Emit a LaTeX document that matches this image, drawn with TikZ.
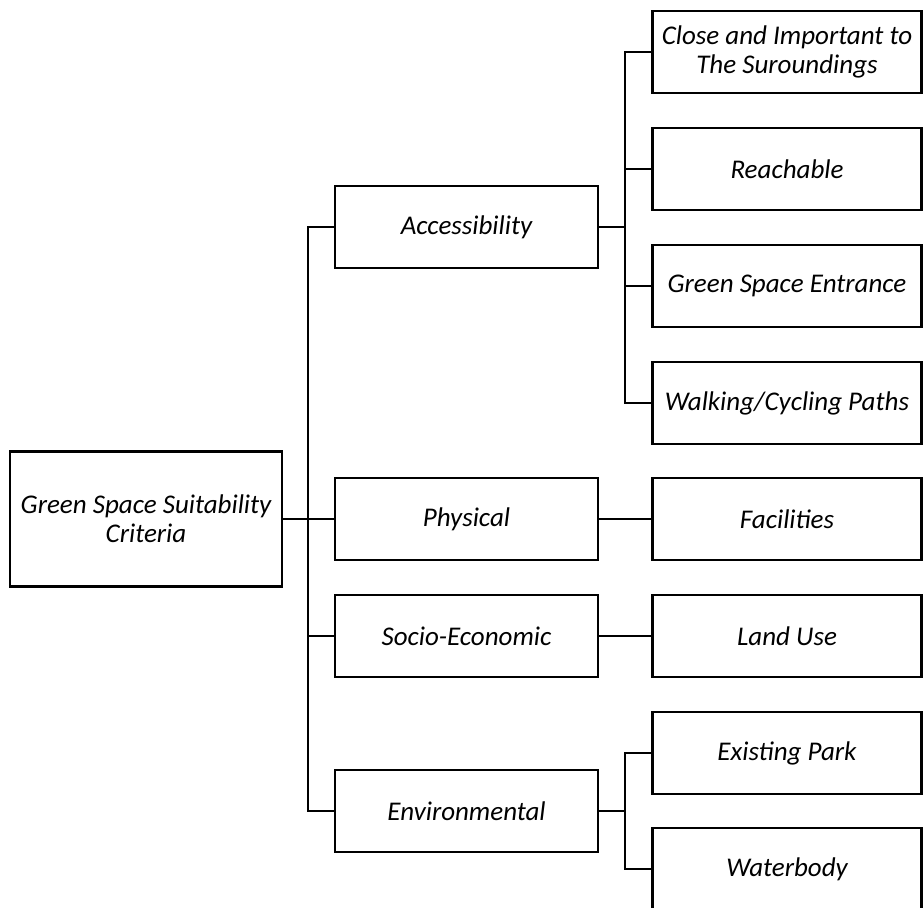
\documentclass[tikz,border=0pt]{standalone}
\usepackage{fontspec}
\setmainfont{Carlito}
\begin{document}
\begin{tikzpicture}[x=1pt,y=-1pt,
  box/.style={draw,line width=2.2pt,inner sep=0pt,align=center,
    font=\fontsize{27}{29}\selectfont\itshape},
  rootbox/.style={box,minimum width=272pt,minimum height=135pt},
  midbox/.style={box,minimum width=263pt,minimum height=82pt},
  leafbox/.style={box,minimum width=269pt,minimum height=82pt},
  conn/.style={line width=1.6pt}]
\useasboundingbox (0,0) rectangle (923,907);
\clip (0,0) rectangle (923,907);
\node[rootbox] (root) at (146,519) {Green Space Suitability\\Criteria};
\node[midbox] (acc) at (466.5,227) {Accessibility};
\node[midbox] (phys) at (466.5,519) {Physical};
\node[midbox] (soc) at (466.5,636) {Socio-Economic};
\node[midbox] (env) at (466.5,811) {Environmental};
\node[leafbox] (close) at (787,52) {Close and Important to\\The Suroundings};
\node[leafbox] (reach) at (787,169) {Reachable};
\node[leafbox] (entr) at (787,286) {Green Space Entrance};
\node[leafbox] (walk) at (787,403) {Walking/Cycling Paths};
\node[leafbox] (fac) at (787,519) {Facilities};
\node[leafbox] (land) at (787,636) {Land Use};
\node[leafbox] (park) at (787,753) {Existing Park};
\node[leafbox] (water) at (787,869) {Waterbody};
\coordinate (tr) at (308,519);
\coordinate (ta) at (625,227);
\coordinate (te) at (625,811);
\draw[line width=2.2pt] (root.east) -- (tr);
\draw[conn] (acc.west) -- (acc.west -| tr) -- (env.west -| tr) -- (env.west);
\draw[conn] (phys.west) -- (phys.west -| tr);
\draw[conn] (soc.west) -- (soc.west -| tr);
\draw[line width=2.2pt] (acc.east) -- (ta);
\draw[conn] (close.west) -- (close.west -| ta) -- (walk.west -| ta) -- (walk.west);
\draw[conn] (reach.west) -- (reach.west -| ta);
\draw[conn] (entr.west) -- (entr.west -| ta);
\draw[conn] (phys.east) -- (fac.west);
\draw[conn] (soc.east) -- (land.west);
\draw[line width=2.2pt] (env.east) -- (te);
\draw[conn] (park.west) -- (park.west -| te) -- (water.west -| te) -- (water.west);
\end{tikzpicture}
\end{document}
